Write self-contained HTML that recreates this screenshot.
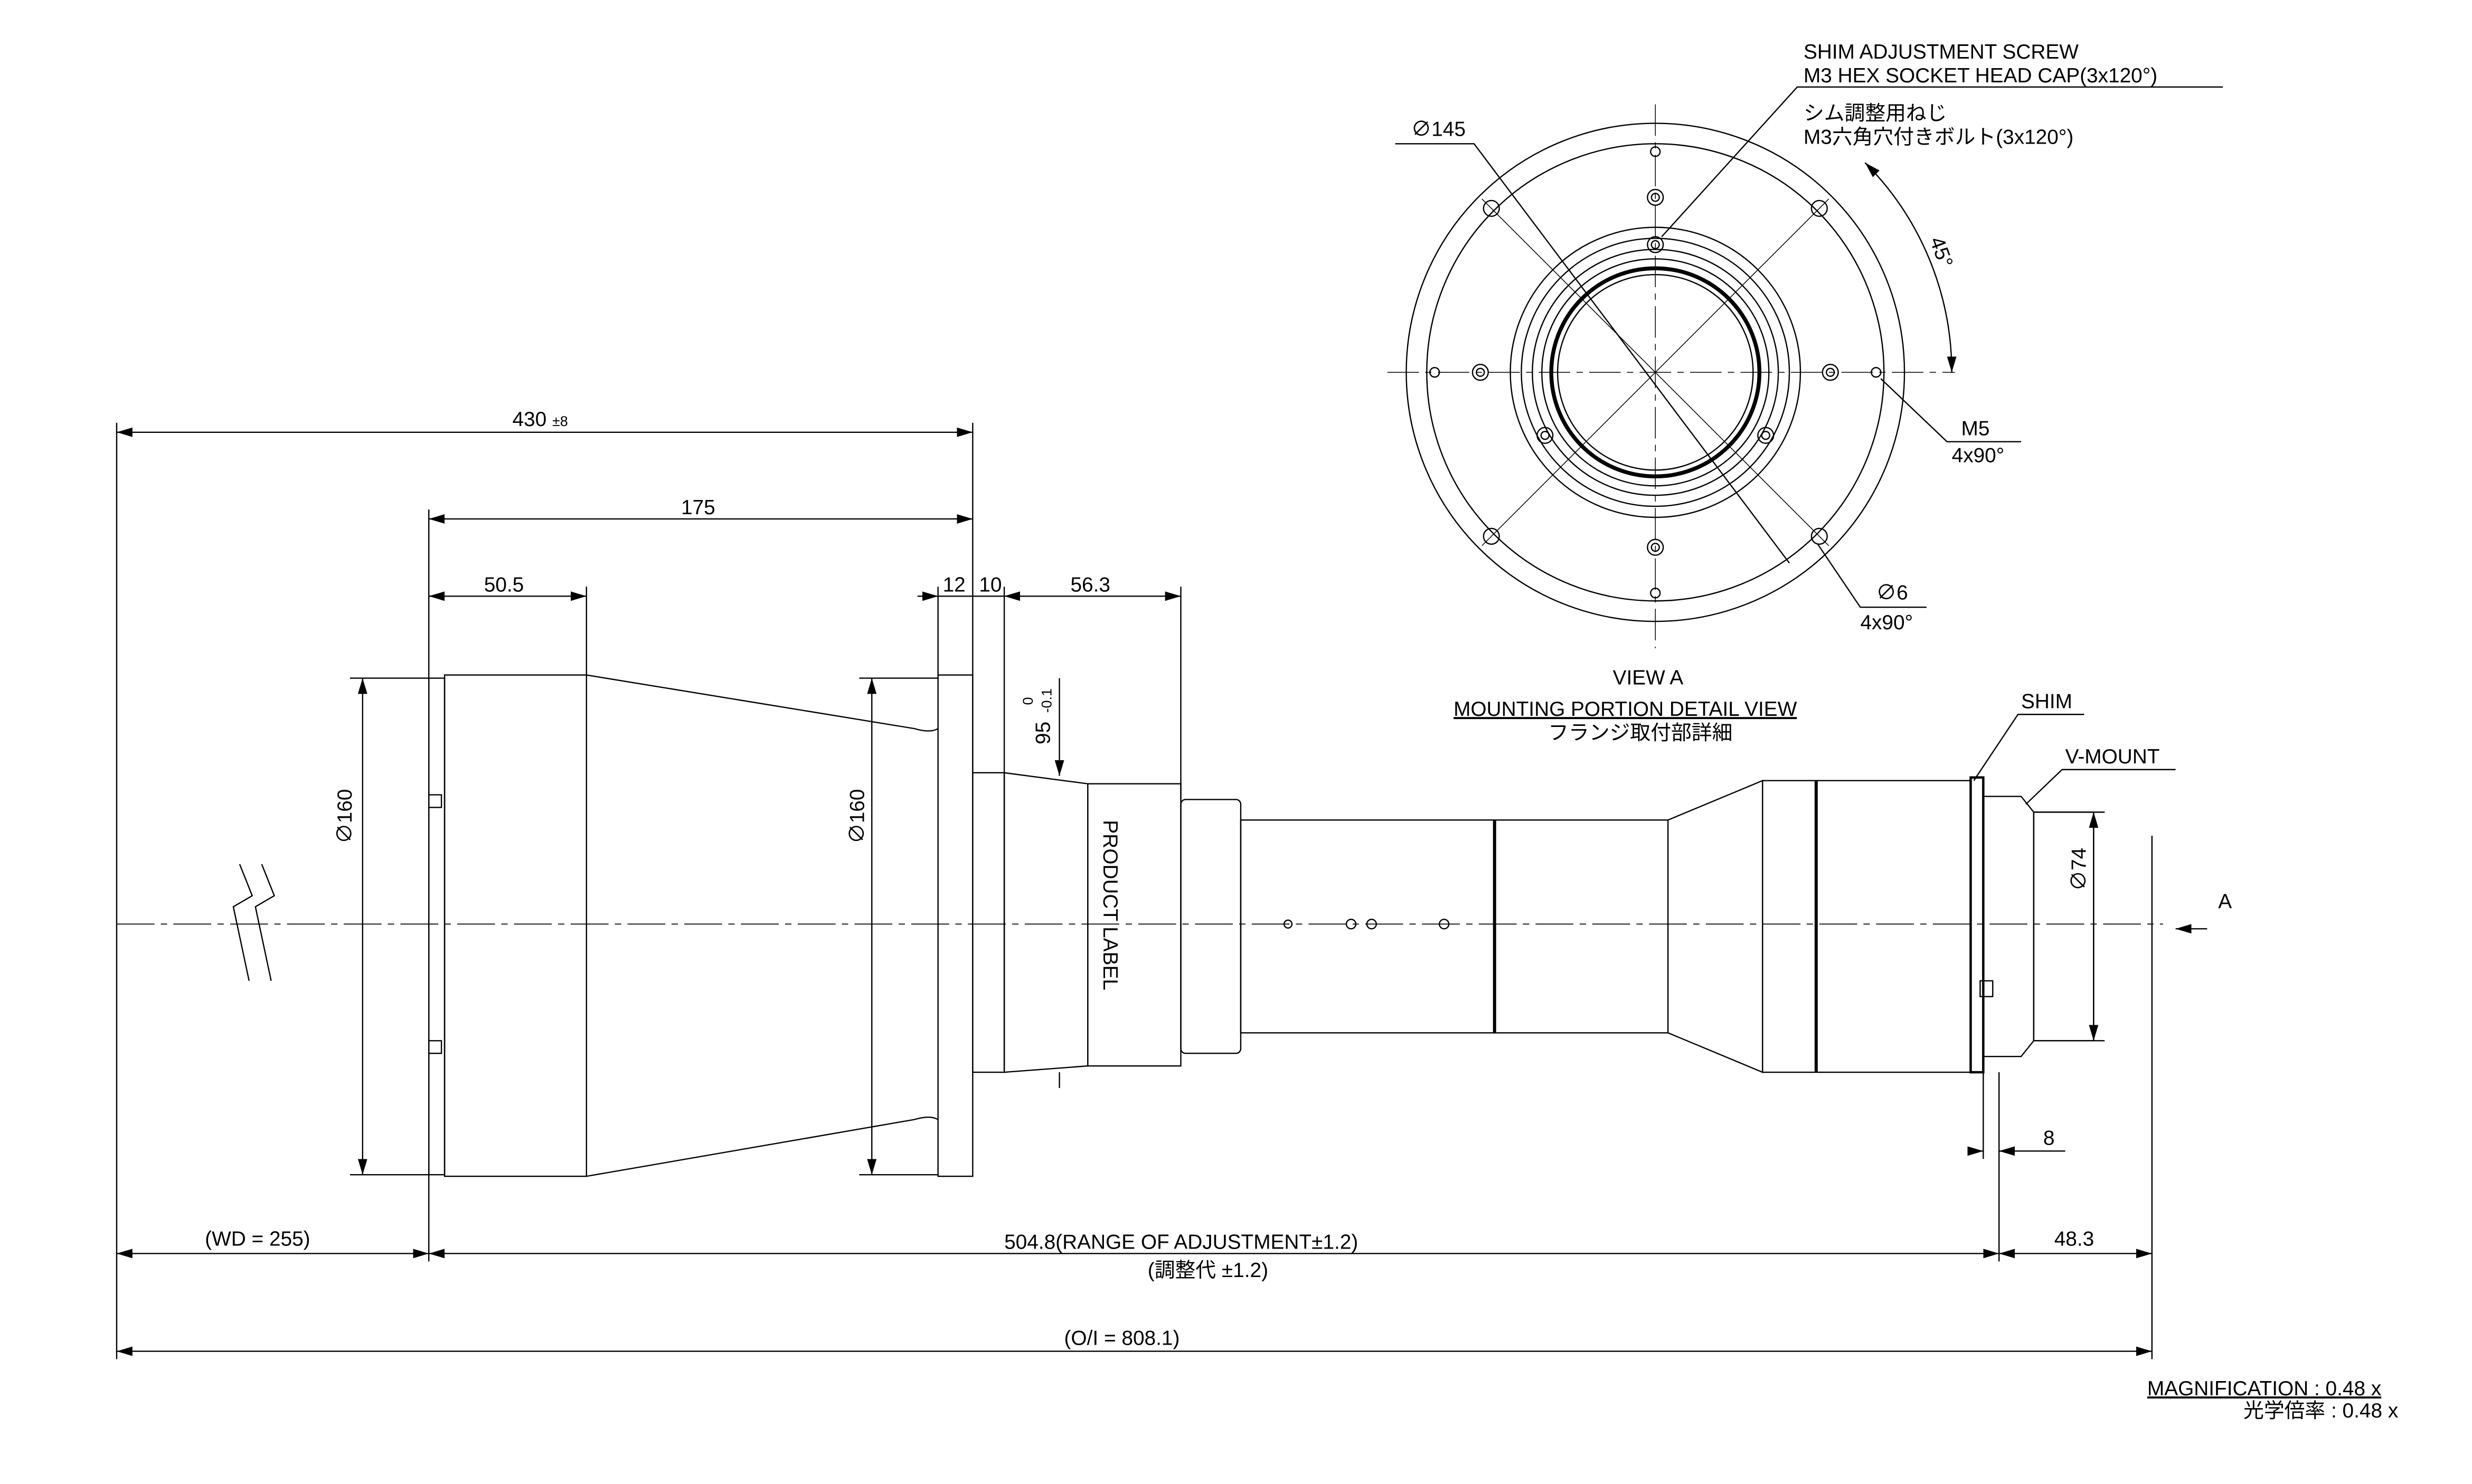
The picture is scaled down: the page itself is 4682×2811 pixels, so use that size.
<!DOCTYPE html>
<html><head><meta charset="utf-8"><style>
html,body{margin:0;padding:0;background:#fff}
svg{display:block}
text{font-family:"Liberation Sans","Noto Sans CJK JP",sans-serif;fill:#000}
</style></head><body>
<svg width="4682" height="2811" viewBox="0 0 1568 941" xmlns="http://www.w3.org/2000/svg">
<defs>
<marker id="a" viewBox="0 0 10 6" refX="10" refY="3" markerWidth="10" markerHeight="6" orient="auto-start-reverse" markerUnits="userSpaceOnUse"><path d="M0,0L10,3L0,6z" fill="#000"/></marker>
</defs>
<g fill="none" stroke="#000" stroke-width="0.8">
<line x1="74" y1="586" x2="1372" y2="586" stroke-dasharray="24,4,4,4" stroke-width="0.6"/>
<path d="M152,548 L160,568 L148,575 L158,622"/><path d="M166,548 L174,568 L162,575 L172,622"/>
<line x1="74" y1="268" x2="74" y2="862"/>
<line x1="272" y1="323" x2="272" y2="800"/>
<line x1="617" y1="268" x2="617" y2="490"/>
<line x1="372" y1="372" x2="372" y2="428"/>
<line x1="595" y1="372" x2="595" y2="428"/>
<line x1="637" y1="372" x2="637" y2="490"/>
<line x1="749" y1="372" x2="749" y2="507"/>
<line x1="1268" y1="680" x2="1268" y2="800"/>
<line x1="1365" y1="530" x2="1365" y2="862"/>
<line x1="1258" y1="680" x2="1258" y2="735"/>
<line x1="74" y1="274" x2="617" y2="274" marker-start="url(#a)" marker-end="url(#a)"/>
<line x1="272" y1="329" x2="617" y2="329" marker-start="url(#a)" marker-end="url(#a)"/>
<line x1="272" y1="378" x2="372" y2="378" marker-start="url(#a)" marker-end="url(#a)"/>
<line x1="582" y1="378" x2="595" y2="378" marker-end="url(#a)"/>
<line x1="595" y1="378" x2="637" y2="378"/>
<line x1="637" y1="378" x2="749" y2="378" marker-start="url(#a)" marker-end="url(#a)"/>
<line x1="74" y1="795" x2="272" y2="795" marker-start="url(#a)" marker-end="url(#a)"/>
<line x1="272" y1="795" x2="1268" y2="795" marker-start="url(#a)" marker-end="url(#a)"/>
<line x1="1268" y1="795" x2="1365" y2="795" marker-start="url(#a)" marker-end="url(#a)"/>
<line x1="74" y1="857" x2="1365" y2="857" marker-start="url(#a)" marker-end="url(#a)"/>
<line x1="230" y1="430" x2="230" y2="745" marker-start="url(#a)" marker-end="url(#a)"/>
<line x1="222" y1="430" x2="272" y2="430"/><line x1="222" y1="745" x2="272" y2="745"/>
<line x1="553" y1="430" x2="553" y2="745" marker-start="url(#a)" marker-end="url(#a)"/>
<line x1="545" y1="430" x2="595" y2="430"/><line x1="545" y1="745" x2="595" y2="745"/>
<line x1="672" y1="430" x2="672" y2="492" marker-end="url(#a)"/>
<line x1="672" y1="680" x2="672" y2="690"/>
<line x1="1328" y1="515" x2="1328" y2="660" marker-start="url(#a)" marker-end="url(#a)"/>
<line x1="1290" y1="515" x2="1335" y2="515"/><line x1="1290" y1="660" x2="1335" y2="660"/>
<line x1="1248" y1="730" x2="1258" y2="730" marker-end="url(#a)"/>
<line x1="1268" y1="730" x2="1310" y2="730" marker-start="url(#a)"/>
<line x1="1400" y1="589" x2="1380" y2="589" marker-end="url(#a)"/>
<rect x="272" y="430" width="10" height="315"/>
<rect x="282" y="428" width="90" height="318"/>
<path d="M372,428 L580,462 Q590,465 595,462 M372,746 L580,710 Q590,707 595,710"/>
<rect x="595" y="428" width="22" height="318"/>
<rect x="617" y="490" width="20" height="190"/>
<path d="M637,490 L690,497 L690,676 L637,680 Z"/>
<rect x="690" y="497" width="59" height="179"/>
<rect x="749" y="507" width="38" height="161" rx="3"/>
<rect x="787" y="520" width="161" height="135"/>
<rect x="948" y="520" width="110" height="135"/>
<line x1="948" y1="520" x2="948" y2="655" stroke-width="2"/>
<path d="M1058,520 L1118,495 L1118,680 L1058,655"/>
<rect x="1118" y="495" width="132" height="185"/>
<line x1="1152" y1="495" x2="1152" y2="680" stroke-width="2"/>
<rect x="1250" y="493" width="8" height="187" stroke-width="1.5"/>
<path d="M1258,505 L1282,505 L1290,515 L1290,660 L1282,670 L1258,670"/>
<rect x="1290" y="515" width="38" height="145"/>
<rect x="272" y="504" width="8" height="8"/><rect x="272" y="660" width="8" height="8"/>
<rect x="1256" y="622" width="8" height="10"/>
<circle cx="817" cy="586" r="2.5"/><circle cx="857" cy="586" r="3"/><circle cx="870" cy="586" r="3"/><circle cx="916" cy="586" r="3"/>
<path d="M1252,495 L1280,453 L1322,453"/>
<path d="M1285,510 L1308,488 L1380,488"/>
<g transform="translate(1050,236)">
<circle r="158"/><circle r="145"/><circle r="92"/><circle r="85"/><circle r="78"/><circle r="72"/><circle r="66" stroke-width="2.5"/><circle r="62"/>
<line x1="-170" y1="0" x2="190" y2="0" stroke-dasharray="20,4,4,4" stroke-width="0.5"/>
<line x1="0" y1="-170" x2="0" y2="175" stroke-dasharray="20,4,4,4" stroke-width="0.5"/>
<line x1="-110" y1="-110" x2="110" y2="110" stroke-width="0.5"/>
<line x1="110" y1="-110" x2="-110" y2="110" stroke-width="0.5"/>
<circle cx="0" cy="-140" r="3"/><circle cx="0" cy="140" r="3"/><circle cx="-140" cy="0" r="3"/><circle cx="140" cy="0" r="3"/>
<circle cx="-104" cy="-104" r="5"/><circle cx="104" cy="-104" r="5"/><circle cx="-104" cy="104" r="5"/><circle cx="104" cy="104" r="5"/>
<circle cx="0" cy="-111" r="5"/><circle cx="0" cy="-111" r="2.5"/>
<circle cx="0" cy="111" r="5"/><circle cx="0" cy="111" r="2.5"/>
<circle cx="-111" cy="0" r="5"/><circle cx="-111" cy="0" r="2.5"/>
<circle cx="111" cy="0" r="5"/><circle cx="111" cy="0" r="2.5"/>
<circle cx="0" cy="-81" r="5"/><circle cx="0" cy="-81" r="2.5"/>
<circle cx="70" cy="40" r="5"/><circle cx="70" cy="40" r="2.5"/>
<circle cx="-70" cy="40" r="5"/><circle cx="-70" cy="40" r="2.5"/>
<path d="M133,-133 A188,188 0 0,1 188,0" marker-start="url(#a)" marker-end="url(#a)"/>
</g>
<path d="M885,91 L935,91 L1135,357" />
<path d="M1054,150 L1140,55 L1410,55"/>
<path d="M1193,240 L1235,280 L1282,280"/>
<path d="M1153,345 L1180,385 L1222,385"/>
</g>
<g font-size="13">
<text x="325" y="270">430 <tspan font-size="9">±8</tspan></text>
<text x="432" y="326">175</text>
<text x="307" y="375">50.5</text>
<text x="598" y="375">12</text><text x="621" y="375">10</text>
<text x="679" y="375">56.3</text>
<text x="637" y="792">504.8(RANGE OF ADJUSTMENT±1.2)</text>
<text x="728" y="810">(調整代  ±1.2)</text>
<text x="130" y="790">(WD = 255)</text>
<text x="1303" y="790">48.3</text>
<text x="675" y="853">(O/I = 808.1)</text>
<text x="1296" y="726">8</text>
<text x="1407" y="576">A</text>
<text x="1282" y="449">SHIM</text>
<text x="1310" y="484">V-MOUNT</text>
<text x="1144" y="37">SHIM ADJUSTMENT SCREW</text>
<text x="1144" y="52">M3 HEX SOCKET HEAD CAP(3x120°)</text>
<text x="1144" y="76">シム調整用ねじ</text>
<text x="1144" y="91">M3六角穴付きボルト(3x120°)</text>
<text x="895" y="86">∅145</text>
<text x="1244" y="276">M5</text>
<text x="1238" y="293">4x90°</text>
<text x="1190" y="380">∅6</text>
<text x="1180" y="399">4x90°</text>
<text x="1023" y="434">VIEW A</text>
<text x="922" y="454" text-decoration="underline">MOUNTING PORTION DETAIL VIEW</text>
<text x="982" y="469">フランジ取付部詳細</text>
<text x="1362" y="885" text-decoration="underline">MAGNIFICATION : 0.48 x</text>
<text x="1423" y="899">光学倍率 : 0.48 x</text>
<text transform="translate(223,535) rotate(-90)">∅160</text>
<text transform="translate(548,535) rotate(-90)">∅160</text>
<text transform="translate(1323,565) rotate(-90)">∅74</text>
<text transform="translate(666,472) rotate(-90)">95</text>
<text transform="translate(655,447) rotate(-90)" font-size="9">0</text>
<text transform="translate(667,452) rotate(-90)" font-size="9">-0.1</text>
<text transform="translate(700,520) rotate(90)">PRODUCT LABEL</text>
<text transform="translate(1224,152) rotate(70)">45°</text>
</g>
</svg>
</body></html>
